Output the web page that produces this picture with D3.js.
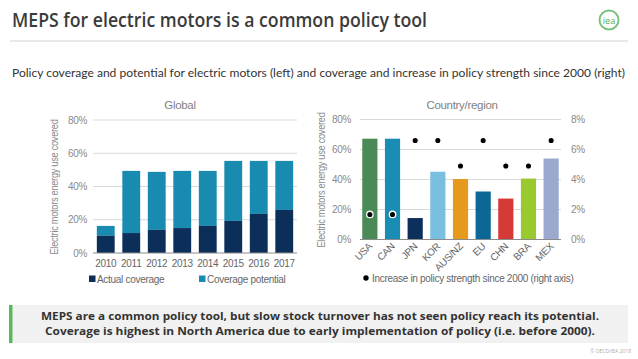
<!DOCTYPE html>
<html>
<head>
<meta charset="utf-8">
<script src="https://cdn.jsdelivr.net/npm/d3@7"></script>
<style>
  body { margin: 0; background: #fff; }
  svg { display: block; }
  .narrow { font-family: "Liberation Sans", Arial, sans-serif; letter-spacing: -0.3px; }
</style>
</head>
<body>
<svg id="chart" width="638" height="359"></svg>
<script>
// ---- data ----
var years = ['2010', '2011', '2012', '2013', '2014', '2015', '2016', '2017'];
var actualCoverage = [0.104, 0.12, 0.139, 0.15, 0.163, 0.193, 0.235, 0.259];
var coverageTotal = [0.163, 0.494, 0.488, 0.494, 0.494, 0.554, 0.554, 0.554];

var countries = ['USA', 'CAN', 'JPN', 'KOR', 'AUS/NZ', 'EU', 'CHN', 'BRA', 'MEX'];
var countryCoverage = [0.672, 0.672, 0.143, 0.452, 0.403, 0.32, 0.273, 0.406, 0.54];
var strengthIncrease = [0.0167, 0.0167, 0.066, 0.066, 0.049, 0.066, 0.049, 0.049, 0.066];
var countryColors = ['#4b8a56', '#1a8db4', '#0d2f5b', '#7bbfe0', '#e59a1e', '#0b6896', '#d63a37', '#98c92f', '#9ba9cf'];

var pctTicks = [0, 0.2, 0.4, 0.6, 0.8];
var pct2Ticks = [0, 0.02, 0.04, 0.06, 0.08];

var svg = d3.select('#chart');
var tickColor = '#8a8a8a';
var fmt = d3.format('.0%');

// ---- header ----
svg.append('text')
    .attr('x', 12).attr('y', 27)
    .attr('textLength', 415).attr('lengthAdjust', 'spacingAndGlyphs')
    .style('font-family', '"Open Sans", sans-serif')
    .style('font-weight', 600)
    .style('font-size', '19px')
    .style('fill', '#3b3b3b')
    .text('MEPS for electric motors is a common policy tool');

svg.append('line')
    .attr('x1', 10).attr('x2', 628).attr('y1', 41).attr('y2', 41)
    .style('stroke', '#d4d4d4').style('stroke-width', 1.2);

// iea logo
var logo = svg.append('g').attr('transform', 'translate(609,20)');
logo.append('circle').attr('r', 9.5)
    .style('fill', '#fff').style('stroke', '#7cc47d').style('stroke-width', 2);
logo.append('text').attr('y', 3.5).attr('text-anchor', 'middle')
    .style('font-family', '"Open Sans", sans-serif')
    .style('font-size', '9px').style('fill', '#5aa95c')
    .text('iea');

svg.append('text')
    .attr('x', 12).attr('y', 77)
    .attr('textLength', 613).attr('lengthAdjust', 'spacingAndGlyphs')
    .style('font-family', 'Lato, sans-serif')
    .style('font-size', '11.5px')
    .style('fill', '#333')
    .text('Policy coverage and potential for electric motors (left) and coverage and increase in policy strength since 2000 (right)');

// ---- left chart: global ----
var x1 = d3.scaleBand().domain(years).range([93, 297]).paddingInner(0.3).paddingOuter(0.15);
var y1 = d3.scaleLinear().domain([0, 0.8]).range([253, 120]);

var g1 = svg.append('g');

g1.selectAll('line.grid').data(pctTicks.slice(1)).enter().append('line')
    .attr('class', 'grid')
    .attr('x1', 93).attr('x2', 297)
    .attr('y1', function(d) { return y1(d); })
    .attr('y2', function(d) { return y1(d); })
    .style('stroke', '#d9d9d9').style('stroke-width', 1);

g1.selectAll('rect.pot').data(years).enter().append('rect')
    .attr('class', 'pot')
    .attr('x', function(d) { return x1(d); })
    .attr('width', x1.bandwidth())
    .attr('y', function(d, i) { return y1(coverageTotal[i]); })
    .attr('height', function(d, i) { return y1(actualCoverage[i]) - y1(coverageTotal[i]); })
    .style('fill', '#1a8bb0');

g1.selectAll('rect.act').data(years).enter().append('rect')
    .attr('class', 'act')
    .attr('x', function(d) { return x1(d); })
    .attr('width', x1.bandwidth())
    .attr('y', function(d, i) { return y1(actualCoverage[i]); })
    .attr('height', function(d, i) { return y1(0) - y1(actualCoverage[i]); })
    .style('fill', '#0c2f5a');

g1.append('line')
    .attr('x1', 93).attr('x2', 297).attr('y1', y1(0)).attr('y2', y1(0))
    .style('stroke', '#8c8c8c').style('stroke-width', 1);

g1.selectAll('text.ytick').data(pctTicks).enter().append('text')
    .attr('class', 'ytick narrow')
    .attr('x', 87).attr('y', function(d) { return y1(d) + 3.5; })
    .attr('text-anchor', 'end')
    .style('font-size', '10px').style('fill', tickColor)
    .text(fmt);

g1.selectAll('text.xtick').data(years).enter().append('text')
    .attr('class', 'xtick narrow')
    .attr('x', function(d) { return x1(d) + x1.bandwidth() / 2; })
    .attr('y', 267)
    .attr('text-anchor', 'middle')
    .style('font-size', '10px').style('fill', '#666')
    .text(function(d) { return d; });

g1.append('text')
    .attr('class', 'narrow')
    .attr('x', 180).attr('y', 109)
    .attr('text-anchor', 'middle')
    .style('font-size', '11.5px').style('fill', '#7f7f7f')
    .text('Global');

g1.append('text')
    .attr('class', 'narrow')
    .attr('transform', 'translate(58,187) rotate(-90)')
    .attr('text-anchor', 'middle')
    .attr('textLength', 135).attr('lengthAdjust', 'spacingAndGlyphs')
    .style('font-size', '10px').style('fill', tickColor)
    .text('Electric motors energy use covered');

var leg1 = [{ label: 'Actual coverage', color: '#0c2f5a', x: 89 },
            { label: 'Coverage potential', color: '#1a8bb0', x: 199 }];
var lg1 = g1.selectAll('g.leg').data(leg1).enter().append('g')
    .attr('class', 'leg')
    .attr('transform', function(d) { return 'translate(' + d.x + ',279)'; });
lg1.append('rect').attr('x', 0).attr('y', -3.5).attr('width', 6.5).attr('height', 6.5)
    .style('fill', function(d) { return d.color; });
lg1.append('text').attr('class', 'narrow')
    .attr('x', 8).attr('y', 3.5)
    .style('font-size', '10px').style('fill', '#666')
    .text(function(d) { return d.label; });

// ---- right chart: country/region ----
var x2 = d3.scaleBand().domain(countries).range([360, 561]).paddingInner(0.33).paddingOuter(0.1);
var y2 = d3.scaleLinear().domain([0, 0.8]).range([239.5, 119.5]);
var y2r = d3.scaleLinear().domain([0, 0.08]).range([239.5, 119.5]);

var g2 = svg.append('g');

g2.selectAll('line.grid').data(pctTicks.slice(1)).enter().append('line')
    .attr('class', 'grid')
    .attr('x1', 360).attr('x2', 561)
    .attr('y1', function(d) { return y2(d); })
    .attr('y2', function(d) { return y2(d); })
    .style('stroke', '#d9d9d9').style('stroke-width', 1);

g2.selectAll('rect.bar').data(countries).enter().append('rect')
    .attr('class', 'bar')
    .attr('x', function(d) { return x2(d); })
    .attr('width', x2.bandwidth())
    .attr('y', function(d, i) { return y2(countryCoverage[i]); })
    .attr('height', function(d, i) { return y2(0) - y2(countryCoverage[i]); })
    .style('fill', function(d, i) { return countryColors[i]; });

g2.append('line')
    .attr('x1', 360).attr('x2', 561).attr('y1', y2(0)).attr('y2', y2(0))
    .style('stroke', '#8c8c8c').style('stroke-width', 1);

g2.selectAll('circle.dot').data(countries).enter().append('circle')
    .attr('class', 'dot')
    .attr('cx', function(d) { return x2(d) + x2.bandwidth() / 2; })
    .attr('cy', function(d, i) { return y2r(strengthIncrease[i]); })
    .attr('r', 3.2)
    .style('fill', '#000').style('stroke', '#fff').style('stroke-width', 1.3);

g2.selectAll('text.ytick').data(pctTicks).enter().append('text')
    .attr('class', 'ytick narrow')
    .attr('x', 351).attr('y', function(d) { return y2(d) + 3.5; })
    .attr('text-anchor', 'end')
    .style('font-size', '10px').style('fill', tickColor)
    .text(fmt);

g2.selectAll('text.ytick2').data(pct2Ticks).enter().append('text')
    .attr('class', 'ytick2 narrow')
    .attr('x', 571).attr('y', function(d) { return y2r(d) + 3.5; })
    .style('font-size', '10px').style('fill', tickColor)
    .text(fmt);

g2.selectAll('text.xtick').data(countries).enter().append('text')
    .attr('class', 'xtick narrow')
    .attr('transform', function(d) {
        return 'translate(' + (x2(d) + x2.bandwidth() / 2 + 3) + ',247) rotate(-45)';
    })
    .attr('text-anchor', 'end')
    .style('font-size', '10px').style('fill', '#666')
    .text(function(d) { return d; });

g2.append('text')
    .attr('class', 'narrow')
    .attr('x', 462).attr('y', 109)
    .attr('text-anchor', 'middle')
    .style('font-size', '11.5px').style('fill', '#7f7f7f')
    .text('Country/region');

g2.append('text')
    .attr('class', 'narrow')
    .attr('transform', 'translate(325,180) rotate(-90)')
    .attr('text-anchor', 'middle')
    .attr('textLength', 135).attr('lengthAdjust', 'spacingAndGlyphs')
    .style('font-size', '10px').style('fill', tickColor)
    .text('Electric motors energy use covered');

g2.append('circle').attr('cx', 366).attr('cy', 278).attr('r', 2.7).style('fill', '#000');
g2.append('text').attr('class', 'narrow')
    .attr('x', 372).attr('y', 281.5)
    .style('font-size', '10px').style('fill', '#666')
    .text('Increase in policy strength since 2000 (right axis)');

// ---- bottom message box ----
svg.append('rect').attr('x', 9).attr('y', 305).attr('width', 619).attr('height', 38)
    .style('fill', '#f1f1f1');
svg.append('rect').attr('x', 9).attr('y', 305).attr('width', 3.5).attr('height', 38)
    .style('fill', '#5cb85c');

var msg = ['MEPS are a common policy tool, but slow stock turnover has not seen policy reach its potential.',
           'Coverage is highest in North America due to early implementation of policy (i.e. before 2000).'];
var msgWidth = [558, 550];
svg.selectAll('text.msg').data(msg).enter().append('text')
    .attr('class', 'msg')
    .attr('x', 320).attr('y', function(d, i) { return 320 + i * 15; })
    .attr('text-anchor', 'middle')
    .attr('textLength', function(d, i) { return msgWidth[i]; })
    .attr('lengthAdjust', 'spacingAndGlyphs')
    .style('font-family', '"Open Sans", sans-serif')
    .style('font-weight', 'bold')
    .style('font-size', '11px')
    .style('fill', '#333')
    .text(function(d) { return d; });

svg.append('text')
    .attr('x', 631).attr('y', 353)
    .attr('text-anchor', 'end')
    .style('font-family', '"Open Sans", sans-serif')
    .style('font-size', '5px').style('fill', '#aaa')
    .text('© OECD/IEA 2018');
</script>
</body>
</html>
